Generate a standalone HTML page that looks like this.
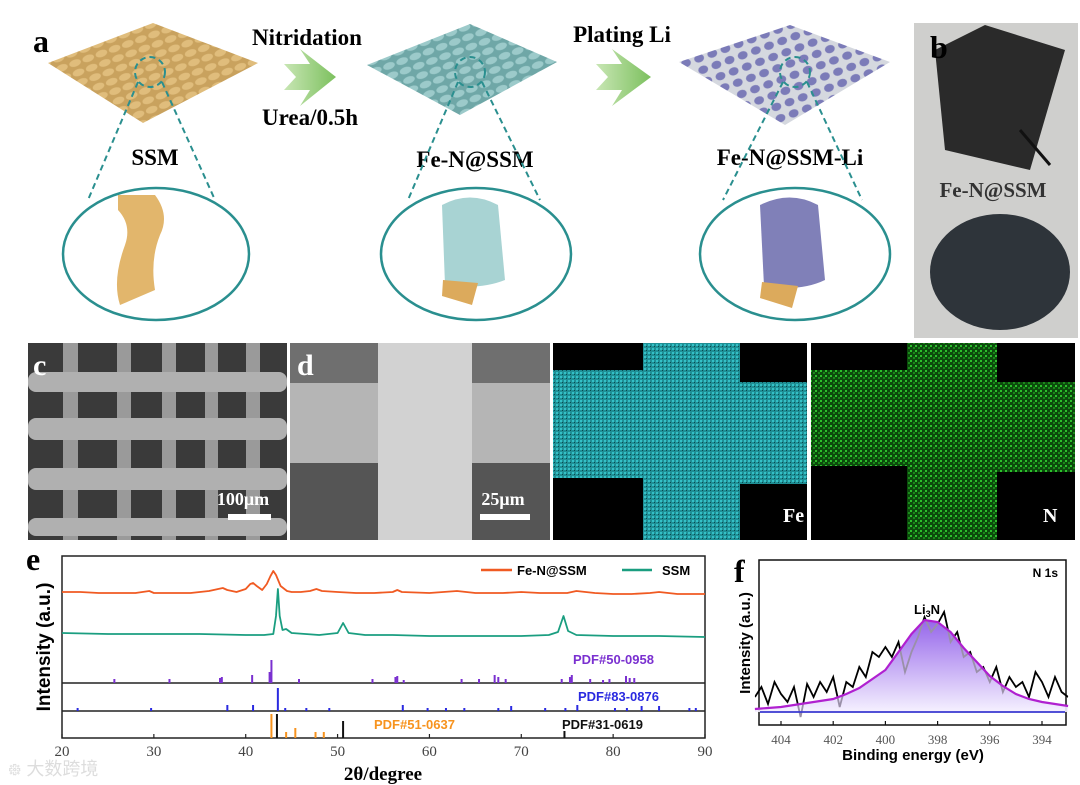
<!DOCTYPE html>
<html><head><meta charset="utf-8"><style>
body{margin:0;background:#fff;}
svg{display:block;}
.lbl{font-family:"Liberation Serif",serif;font-weight:bold;}
.sans{font-family:"Liberation Sans",sans-serif;}
</style></head><body>
<svg id="fig" width="1080" height="785" viewBox="0 0 1080 785" xmlns="http://www.w3.org/2000/svg">
<defs>
<pattern id="tanp" width="14" height="10" patternUnits="userSpaceOnUse" patternTransform="rotate(-20)"><rect width="14" height="10" fill="#c9a25e"/><ellipse cx="7" cy="5" rx="6" ry="3.5" fill="#e0bd7c"/></pattern>
<pattern id="tealp" width="14" height="10" patternUnits="userSpaceOnUse" patternTransform="rotate(-20)"><rect width="14" height="10" fill="#6fa7a7"/><ellipse cx="7" cy="5" rx="6" ry="3.5" fill="#9ccaca"/></pattern>
<pattern id="purp" width="14" height="12" patternUnits="userSpaceOnUse" patternTransform="rotate(-20)"><rect width="14" height="12" fill="#d5d8df"/><ellipse cx="7" cy="6" rx="5" ry="4" fill="#7b7bb8"/></pattern>
<pattern id="fep" width="4" height="4" patternUnits="userSpaceOnUse"><rect width="4" height="4" fill="#1f8f95"/><rect width="2" height="2" fill="#35c0c6"/><rect x="2" y="2" width="1" height="1" fill="#0a4a4e"/></pattern>
<pattern id="np" width="5" height="5" patternUnits="userSpaceOnUse"><rect width="5" height="5" fill="#0c4a0c"/><rect width="2" height="2" fill="#2cc02c"/><rect x="3" y="2" width="2" height="2" fill="#1a8a1a"/></pattern>
<linearGradient id="envg" x1="0" y1="0" x2="0" y2="1"><stop offset="0" stop-color="#8a55e8"/><stop offset="1" stop-color="#f4efff"/></linearGradient>
<linearGradient id="arrg" x1="0" y1="0" x2="1" y2="0"><stop offset="0" stop-color="#c8e6b4"/><stop offset="1" stop-color="#7cc05e"/></linearGradient>
</defs>

<!-- Panel a -->
<g>
<text class="lbl" x="33" y="52" font-size="32">a</text>
<polygon points="48,63 153,23 258,63 143,123" fill="url(#tanp)"/>
<polygon points="367,65 470,24 557,62 460,115" fill="url(#tealp)"/>
<polygon points="679,62 790,25 890,62 785,125" fill="url(#purp)"/>
<text class="lbl" x="307" y="45" font-size="23" text-anchor="middle">Nitridation</text>
<text class="lbl" x="310" y="125" font-size="23" text-anchor="middle">Urea/0.5h</text>
<text class="lbl" x="622" y="42" font-size="23" text-anchor="middle">Plating Li</text>
<polygon points="284,64 310,64 300,49 336,77 300,106 310,90 284,90 296,77" fill="url(#arrg)"/>
<polygon points="596,64 622,64 612,49 651,77 612,106 622,90 596,90 608,77" fill="url(#arrg)"/>
<text class="lbl" x="155" y="165" font-size="23" text-anchor="middle">SSM</text>
<text class="lbl" x="475" y="167" font-size="23" text-anchor="middle">Fe-N@SSM</text>
<text class="lbl" x="790" y="165" font-size="23" text-anchor="middle">Fe-N@SSM-Li</text>
<g fill="none" stroke="#2a8f8f" stroke-width="2" stroke-dasharray="6,4">
<circle cx="150" cy="72" r="15"/><line x1="138" y1="82" x2="88" y2="200"/><line x1="162" y1="82" x2="215" y2="200"/>
<circle cx="470" cy="72" r="15"/><line x1="458" y1="82" x2="408" y2="200"/><line x1="482" y1="82" x2="540" y2="200"/>
<circle cx="795" cy="72" r="15"/><line x1="783" y1="82" x2="723" y2="200"/><line x1="807" y1="82" x2="862" y2="200"/>
</g>
<g fill="none" stroke="#2a8f8f" stroke-width="2.5">
<ellipse cx="156" cy="254" rx="93" ry="66"/>
<ellipse cx="476" cy="254" rx="95" ry="66"/>
<ellipse cx="795" cy="254" rx="95" ry="66"/>
</g>
<path d="M118,195 L155,195 Q170,215 160,235 Q150,260 155,290 L120,305 Q112,280 125,245 Q132,225 118,210 Z" fill="#e2b66c"/>
<path d="M442,205 Q470,190 498,205 L505,280 Q480,290 445,285 Z" fill="#a8d3d3"/>
<path d="M443,280 L478,283 L472,305 L442,296 Z" fill="#dcaa5c"/>
<path d="M760,205 Q790,190 818,205 L825,280 Q800,292 764,286 Z" fill="#8080b8"/>
<path d="M762,282 L798,286 L792,308 L760,298 Z" fill="#dcaa5c"/>
</g>

<!-- Panel b -->
<g>
<rect x="914" y="23" width="164" height="315" fill="#cfcfcd"/>
<polygon points="935,50 985,25 1065,50 1030,170 945,150" fill="#2a2a2a"/>
<line x1="1020" y1="130" x2="1050" y2="165" stroke="#111" stroke-width="3"/>
<ellipse cx="1000" cy="272" rx="70" ry="58" fill="#2e343a"/>
<text class="lbl" x="993" y="197" font-size="21" text-anchor="middle" fill="#333">Fe-N@SSM</text>
<text class="lbl" x="930" y="58" font-size="32">b</text>
</g>

<!-- Panel c SEM -->
<g>
<rect x="28" y="343" width="259" height="197" fill="#3a3a3a"/>
<g fill="#9a9a9a">
<rect x="63" y="343" width="15" height="197"/><rect x="117" y="343" width="14" height="197"/><rect x="162" y="343" width="14" height="197"/><rect x="205" y="343" width="13" height="197"/><rect x="246" y="343" width="14" height="197"/>
</g>
<g fill="#b0b0b0">
<rect x="28" y="372" width="259" height="20" rx="8"/><rect x="28" y="418" width="259" height="22" rx="8"/><rect x="28" y="468" width="259" height="22" rx="8"/><rect x="28" y="518" width="259" height="18" rx="8"/>
</g>
<text class="lbl" x="33" y="375" font-size="30" fill="#fff">c</text>
<text class="lbl" x="243" y="505" font-size="18" fill="#fff" text-anchor="middle">100μm</text>
<rect x="228" y="514" width="43" height="6" fill="#fff"/>
</g>

<!-- Panel d SEM -->
<g>
<rect x="290" y="343" width="260" height="197" fill="#6f6f6f"/>
<rect x="290" y="383" width="260" height="80" fill="#b5b5b5"/>
<rect x="290" y="463" width="260" height="77" fill="#555"/>
<rect x="378" y="343" width="94" height="197" fill="#d2d2d2"/>
<text class="lbl" x="297" y="375" font-size="30" fill="#fff">d</text>
<text class="lbl" x="503" y="505" font-size="18" fill="#fff" text-anchor="middle">25μm</text>
<rect x="480" y="514" width="50" height="6" fill="#fff"/>
</g>

<!-- Fe map -->
<g>
<rect x="553" y="343" width="254" height="197" fill="#000"/>
<rect x="553" y="370" width="90" height="108" fill="url(#fep)"/>
<rect x="740" y="382" width="67" height="102" fill="url(#fep)"/>
<rect x="643" y="343" width="97" height="197" fill="url(#fep)"/>
<text class="lbl" x="783" y="522" font-size="20" fill="#fff">Fe</text>
</g>
<!-- N map -->
<g>
<rect x="811" y="343" width="264" height="197" fill="#000"/>
<rect x="811" y="370" width="96" height="96" fill="url(#np)"/>
<rect x="997" y="382" width="78" height="90" fill="url(#np)"/>
<rect x="907" y="343" width="90" height="197" fill="url(#np)"/>
<text class="lbl" x="1043" y="522" font-size="20" fill="#fff">N</text>
</g>

<!-- Panel e -->
<g id="pe">
<text class="lbl" x="26" y="570" font-size="32">e</text>
<rect x="62" y="556" width="643" height="182" fill="none" stroke="#222" stroke-width="1.5"/>
<line x1="62" y1="683" x2="705" y2="683" stroke="#222" stroke-width="1.5"/>
<line x1="62" y1="711" x2="705" y2="711" stroke="#222" stroke-width="1.5"/>
<text class="sans" font-size="19" font-weight="bold" transform="translate(50,647) rotate(-90)" text-anchor="middle">Intensity (a.u.)</text>
<text class="lbl" x="383" y="780" font-size="19" text-anchor="middle">2θ/degree</text>
<line x1="481" y1="570" x2="512" y2="570" stroke="#f05a22" stroke-width="2.5"/>
<text class="sans" x="517" y="575" font-size="13" font-weight="bold">Fe-N@SSM</text>
<line x1="622" y1="570" x2="652" y2="570" stroke="#1a9e80" stroke-width="2.5"/>
<text class="sans" x="662" y="575" font-size="13" font-weight="bold">SSM</text>
<text class="sans" x="573" y="664" font-size="13" font-weight="bold" fill="#7a30d0">PDF#50-0958</text>
<text class="sans" x="578" y="701" font-size="13" font-weight="bold" fill="#2a2ae0">PDF#83-0876</text>
<text class="sans" x="374" y="729" font-size="13" font-weight="bold" fill="#f7931e">PDF#51-0637</text>
<text class="sans" x="562" y="729" font-size="13" font-weight="bold" fill="#111">PDF#31-0619</text>
</g>

<!-- Panel f -->
<g id="pf">
<text class="lbl" x="734" y="582" font-size="32">f</text>
<text class="sans" font-size="15" font-weight="bold" transform="translate(750,643) rotate(-90)" text-anchor="middle">Intensity (a.u.)</text>
<text class="sans" x="913" y="760" font-size="15" font-weight="bold" text-anchor="middle">Binding energy (eV)</text>
<text class="sans" x="1058" y="577" font-size="12" font-weight="bold" text-anchor="end">N 1s</text>
<text class="sans" x="927" y="614" font-size="13" font-weight="bold" text-anchor="middle">Li<tspan font-size="9" dy="3">3</tspan><tspan dy="-3">N</tspan></text>
</g>

<text x="8" y="775" font-size="18" fill="#ddd" font-family="'Liberation Sans','Noto Sans CJK SC',sans-serif">᪥ 大数跨境</text>
</svg>
<script>
// ---------- Panel e data ----------
const xrdXTicks = [20,30,40,50,60,70,80,90];
const fenTheta = [20,22,24,26,28,29.5,30,32,34,35,36,37,37.5,38,39,40,40.5,40.8,41.2,41.8,42.3,42.7,43,43.3,43.8,44.5,45,46,47,47.7,48.3,50,52,54,56,56.5,57,60,63,65,68,70,72,75,76,78,80,82,84,85,87,90];
const fenVal   = [44,44,43,43,43,45,43,43,43,44,45,47,48,46,44,47,52,53,50,46,52,60,65,61,50,45,44,44,45,47,45,44,43,43,44,46,44,43,45,43,43,44,43,43,45,43,42,42,43,44,42,42];
const ssmTheta = [20,25,30,35,40,42,43,43.3,43.5,43.7,44,44.4,45,48,50,50.6,51.2,53,56,60,65,70,73,74,74.6,75.1,76,80,85,90];
const ssmVal   = [3,2,2,2,1,1,2,20,47,20,6,7,3,1,3,13,3,1,1,0,0,0,1,4,20,5,1,0,0,-1];
const pdf50Pos = [25.7,31.7,37.2,37.4,40.7,42.6,42.8,45.8,53.8,56.3,56.5,57.2,63.5,65.4,67.1,67.5,68.3,74.4,75.3,75.5,77.5,78.9,79.6,81.4,81.8,82.3];
const pdf50Int = [4,4,5,6,8,11,23,4,4,6,7,3,4,4,8,6,4,4,6,8,4,3,4,7,5,5];
const pdf83Pos = [21.7,29.7,38.0,40.8,43.5,44.3,46.6,49.1,57.1,59.8,61.8,63.8,67.5,68.9,72.6,74.8,76.1,80.2,81.5,83.1,85.0,88.3,89.0];
const pdf83Int = [3,3,6,6,23,3,3,3,6,3,3,3,3,5,3,3,6,3,3,5,5,3,3];
const pdf51Pos = [42.8,44.4,45.4,47.6,48.5];
const pdf51Int = [24,6,10,6,6];
const pdf31Pos = [43.4,50.6,74.7];
const pdf31Int = [24,17,7];
// ---------- Panel f data ----------
const xpsXTicks = [404,402,400,398,396,394];
const xpsBE  = [405,404.75,404.5,404.25,404,403.75,403.5,403.25,403,402.75,402.5,402.25,402,401.75,401.5,401.25,401,400.75,400.5,400.25,400,399.75,399.5,399.25,399,398.75,398.5,398.25,398,397.75,397.5,397.25,397,396.75,396.5,396.25,396,395.75,395.5,395.25,395,394.75,394.5,394.25,394,393.75,393.5,393.25,393];
const xpsRaw = [15,25,8,30,18,10,25,-5,28,15,30,20,35,5,30,25,45,35,60,55,65,55,70,40,60,75,95,80,88,100,70,80,55,60,40,45,30,45,20,35,25,30,15,40,30,15,35,20,15];
const fitBE  = [405,404.5,404,403.5,403,402.5,402,401.5,401,400.5,400,399.5,399,398.5,398,397.5,397,396.5,396,395.5,395,394.5,394,393.5,393];
const fitVal = [3,4,5,7,9,11,13,18,24,33,42,60,78,92,90,80,64,50,36,26,18,13,10,8,6];

const NS='http://www.w3.org/2000/svg';
function mk(tag, attrs, parent){const e=document.createElementNS(NS,tag);for(const k in attrs)e.setAttribute(k,attrs[k]);parent.appendChild(e);return e;}
const pe=document.getElementById('pe'), pf=document.getElementById('pf');
// e axes
const ex = t => 62 + (t-20)/70*643;
const eyTrace = v => 636 - v;
xrdXTicks.forEach(t=>{
  const tk=mk('line',{x1:ex(t),x2:ex(t),y1:738,y2:734,stroke:'#222','stroke-width':1.2},pe);
  
  
  const tl=mk('text',{x:ex(t),y:756,'font-size':15,'text-anchor':'middle','font-family':'Liberation Serif, serif',fill:'#444'},pe);
  tl.textContent=t;
  
  
});
function trace(xs, vs, color, name){
  const d=xs.map((t,i)=>(i?'L':'M')+ex(t).toFixed(1)+','+eyTrace(vs[i]).toFixed(1)).join(' ');
  const p=mk('path',{d:d,fill:'none',stroke:color,'stroke-width':1.8,'stroke-linejoin':'round'},pe);
  
  
}
trace(fenTheta,fenVal,'#f05a22','fen-ssm-pattern');
trace(ssmTheta,ssmVal,'#1a9e80','ssm-pattern');
function sticks(pos, ints, base, color, name){
  pos.forEach((t,i)=>{
    const l=mk('line',{x1:ex(t),x2:ex(t),y1:base,y2:base-ints[i],stroke:color,'stroke-width':2},pe);
    
    
  });
}
sticks(pdf50Pos,pdf50Int,683,'#7a30d0','pdf-50-0958-stick');
sticks(pdf83Pos,pdf83Int,711,'#2a2ae0','pdf-83-0876-stick');
sticks(pdf51Pos,pdf51Int,738,'#f7931e','pdf-51-0637-stick');
sticks(pdf31Pos,pdf31Int,738,'#111','pdf-31-0619-stick');

// f axes
const fx = b => 781 + (404-b)*26.1;
const fy = v => 712 - v;
mk('rect',{x:759,y:560,width:307,height:165,fill:'none',stroke:'#111','stroke-width':1.5},pf);
xpsXTicks.forEach(b=>{
  const tk=mk('line',{x1:fx(b),x2:fx(b),y1:725,y2:721,stroke:'#111','stroke-width':1.2},pf);
  
  
  const tl=mk('text',{x:fx(b),y:744,'font-size':13,'text-anchor':'middle','font-family':'Liberation Serif, serif',fill:'#555'},pf);
  tl.textContent=b;
  
  
});
const envPts=fitBE.map((b,i)=>fx(b).toFixed(1)+','+fy(fitVal[i]).toFixed(1));
const envD='M'+envPts.join(' L');
const cp=mk('clipPath',{id:'underEnv'},pf);
mk('path',{d:envD+' L'+fx(393)+',725 L'+fx(405)+',725 Z'},cp);
const cp2=mk('clipPath',{id:'overEnv'},pf);
mk('path',{d:envD+' L'+fx(393)+',560 L'+fx(405)+',560 Z'},cp2);
const fill=mk('path',{d:envD+' L'+fx(393)+','+fy(0)+' L'+fx(405)+','+fy(0)+' Z',fill:'url(#envg)',opacity:0.9},pf);


const rawD='M'+xpsBE.map((b,i)=>fx(b).toFixed(1)+','+Math.min(724,fy(xpsRaw[i])).toFixed(1)).join(' L');
const rawOver=mk('path',{d:rawD,fill:'none',stroke:'#000','stroke-width':1.8,'clip-path':'url(#overEnv)'},pf);


const rawUnder=mk('path',{d:rawD,fill:'none',stroke:'#9a90a8','stroke-width':1.8,'clip-path':'url(#underEnv)'},pf);


const base=mk('line',{x1:760,x2:1065,y1:fy(0),y2:fy(0),stroke:'#3a3ad0','stroke-width':1.8},pf);


const env=mk('path',{d:envD,fill:'none',stroke:'#b020d0','stroke-width':2.2},pf);


</script>
</body></html>
